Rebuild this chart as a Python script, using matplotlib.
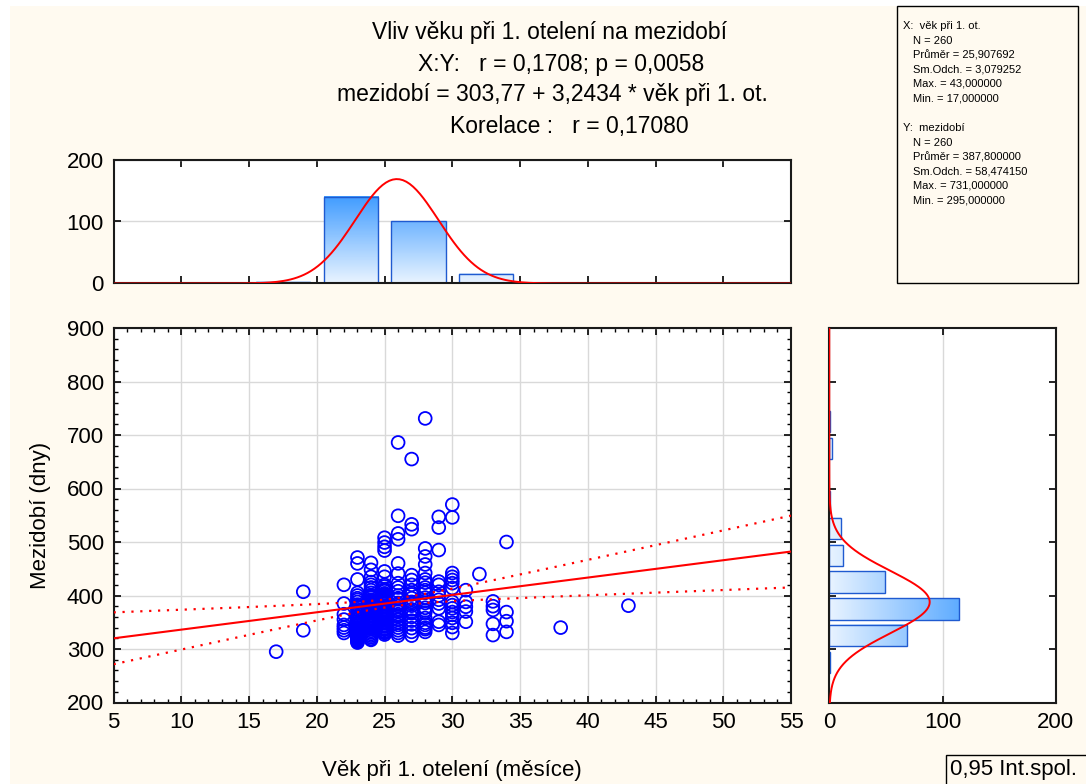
import numpy as np
import matplotlib
matplotlib.use('Agg')
import matplotlib.pyplot as plt
from matplotlib.patches import Rectangle
from matplotlib.colors import LinearSegmentedColormap, Normalize
from matplotlib.ticker import MultipleLocator, NullFormatter

plt.rcParams['font.family'] = ['Liberation Sans', 'DejaVu Sans']

# --- data ---
# age at first calving (months) and the intervals (days) seen in each column
ages = [17, 19, 22, 23, 24, 25, 26, 27, 28, 29, 30, 31, 32, 33, 34, 38, 43]
mezidobi = [
    [295],
    [407, 335],
    [420, 385, 365, 355, 345, 340, 335, 330],
    [471, 460, 430, 405, 400, 395, 392, 388, 383, 380, 378, 374, 370, 366, 362, 358, 355, 352,
     349, 346, 343, 340, 338, 336, 334, 332, 330, 328, 326, 324, 322, 320, 318, 316, 314, 312],
    [461, 448, 435, 425, 420, 415, 410, 405, 400, 398, 396, 392, 390, 388, 385, 382, 380, 379,
     376, 375, 373, 370, 368, 367, 364, 362, 361, 358, 356, 355, 352, 350, 349, 346, 344, 343,
     340, 338, 337, 334, 331, 328, 325, 322, 319, 317],
    [508, 499, 491, 484, 445, 435, 420, 417, 412, 410, 408, 404, 402, 400, 398, 396, 393, 391,
     390, 387, 385, 384, 381, 379, 378, 375, 373, 372, 369, 367, 366, 363, 361, 360, 357, 355,
     354, 351, 349, 348, 345, 343, 342, 339, 337, 336, 333, 331, 330, 327],
    [686, 549, 516, 505, 460, 441, 423, 415, 408, 400, 395, 393, 386, 383, 380, 375, 372, 370,
     365, 362, 360, 355, 350, 345, 340, 335, 330, 325],
    [655, 533, 524, 438, 429, 420, 410, 405, 402, 395, 388, 385, 381, 374, 370, 367, 360, 353,
     346, 339, 332, 325],
    [731, 488, 473, 458, 442, 430, 424, 415, 410, 405, 396, 390, 386, 377, 372, 368, 358, 349,
     345, 340, 337, 332],
    [547, 527, 485, 426, 420, 407, 400, 392, 385, 376, 351, 345],
    [570, 546, 442, 435, 429, 423, 414, 388, 382, 376, 369, 364, 358, 349, 341, 330],
    [410, 388, 379, 370, 351],
    [440],
    [389, 380, 373, 347, 326],
    [500, 369, 352, 332],
    [340],
    [381],
]

# marginal histograms
age_bin_centers = [17.5, 22.5, 27.5, 32.5, 37.5, 42.5]
age_bin_counts = [3, 140, 100, 15, 1, 1]
mez_bin_centers = [275, 325, 375, 425, 475, 525, 575, 625, 675, 725]
mez_bin_counts = [1, 69, 115, 49, 12, 10, 1, 0, 2, 1]

# summary statistics printed on the chart
n = 260
x_mean, x_sd = 25.907692, 3.079252
y_mean, y_sd = 387.8, 58.474150
r = 0.1708
intercept, slope = 303.77, 3.2434

title_lines = [
    'Vliv věku při 1. otelení na mezidobí',
    'X:Y:   r = 0,1708; p = 0,0058',
    'mezidobí = 303,77 + 3,2434 * věk při 1. ot.',
    'Korelace :   r = 0,17080',
]
stats_x = ['X:  věk při 1. ot.', 'N = 260', 'Průměr = 25,907692', 'Sm.Odch. = 3,079252',
           'Max. = 43,000000', 'Min. = 17,000000']
stats_y = ['Y:  mezidobí', 'N = 260', 'Průměr = 387,800000', 'Sm.Odch. = 58,474150',
           'Max. = 731,000000', 'Min. = 295,000000']

x = np.concatenate([[a] * len(v) for a, v in zip(ages, mezidobi)])
y = np.concatenate(mezidobi)

# --- figure ---
W, H = 1086, 784
cream = '#FFFAF0'
fig = plt.figure(figsize=(W / 100, H / 100), dpi=100, facecolor='white')


def box(l, t, r_, b):
    # pixel box (from top-left) -> figure fraction rect
    return [l / W, 1 - b / H, (r_ - l) / W, (b - t) / H]


fig.patches.append(Rectangle((10 / W, 0), 1, (H - 6) / H, transform=fig.transFigure,
                             facecolor=cream, edgecolor='none', zorder=-10))

ax = fig.add_axes(box(113.6, 328, 791, 702.5))
ax_top = fig.add_axes(box(113.6, 159.5, 791, 283.5))
ax_right = fig.add_axes(box(829.3, 328, 1055.7, 702.5))

cmap = LinearSegmentedColormap.from_list('bars', ['#E8F3FF', '#3C9AFF'])
norm = Normalize(0, 145)
edge = '#1F5AD0'
grid_c = '#D9D9D9'
fs = 16

for a in (ax, ax_top, ax_right):
    a.set_facecolor('white')
    for s in a.spines.values():
        s.set_linewidth(1.5)
        s.set_color('#1a1a1a')
    a.set_axisbelow(True)

# scatter
ax.scatter(x, y, s=85, facecolors='none', edgecolors='#0000FF', linewidths=1.3, zorder=3)
xs = np.linspace(5, 55, 200)
fit = intercept + slope * xs
s_res = y_sd * np.sqrt((1 - r ** 2) * (n - 1) / (n - 2))
sxx = (n - 1) * x_sd ** 2
half = 1.9692 * s_res * np.sqrt(1 / n + (xs - x_mean) ** 2 / sxx)
ax.plot(xs, fit, color='red', lw=1.5, zorder=4)
ax.plot(xs, fit + half, color='red', lw=1.6, ls=(0, (1, 3)), zorder=4)
ax.plot(xs, fit - half, color='red', lw=1.6, ls=(0, (1, 3)), zorder=4)
ax.set_xlim(5, 55)
ax.set_ylim(200, 900)
ax.xaxis.set_major_locator(MultipleLocator(5))
ax.xaxis.set_minor_locator(MultipleLocator(1))
ax.yaxis.set_major_locator(MultipleLocator(100))
ax.yaxis.set_minor_locator(MultipleLocator(20))
ax.grid(True, which='major', color=grid_c, lw=1)
ax.tick_params(which='both', direction='in', top=True, right=True, labelsize=fs, pad=7)
ax.tick_params(which='major', length=5, width=1.2)
ax.tick_params(which='minor', length=3, width=1)
ax.set_xlabel('Věk při 1. otelení (měsíce)', fontsize=fs, labelpad=19)
ax.set_ylabel('Mezidobí (dny)', fontsize=fs, labelpad=11)

# top histogram
for c, cnt in zip(age_bin_centers, age_bin_counts):
    if cnt <= 0:
        continue
    ax_top.imshow(np.linspace(0, cnt, 60).reshape(-1, 1), extent=(c - 2, c + 2, 0, cnt),
                  origin='lower', cmap=cmap, norm=norm, aspect='auto', zorder=2)
    ax_top.add_patch(Rectangle((c - 2, 0), 4, cnt, fill=False, ec=edge, lw=1, zorder=2.2))
ax_top.plot(xs, n * 5 * np.exp(-0.5 * ((xs - x_mean) / x_sd) ** 2) / (x_sd * np.sqrt(2 * np.pi)),
            color='red', lw=1.4, zorder=3)
ax_top.set_xlim(5, 55)
ax_top.set_ylim(0, 200)
ax_top.xaxis.set_major_locator(MultipleLocator(5))
ax_top.xaxis.set_major_formatter(NullFormatter())
ax_top.yaxis.set_major_locator(MultipleLocator(100))
ax_top.grid(True, axis='y', color=grid_c, lw=1)
ax_top.tick_params(direction='in', top=True, right=True, labelsize=fs, pad=7, length=5, width=1.2)

# right histogram
for c, cnt in zip(mez_bin_centers, mez_bin_counts):
    if cnt <= 0:
        continue
    ax_right.imshow(np.linspace(0, cnt, 60).reshape(1, -1), extent=(0, cnt, c - 20, c + 20),
                    origin='lower', cmap=cmap, norm=norm, aspect='auto', zorder=2)
    ax_right.add_patch(Rectangle((0, c - 20), cnt, 40, fill=False, ec=edge, lw=1, zorder=2.2))
ys = np.linspace(200, 900, 400)
ax_right.plot(n * 50 * np.exp(-0.5 * ((ys - y_mean) / y_sd) ** 2) / (y_sd * np.sqrt(2 * np.pi)), ys,
              color='red', lw=1.4, zorder=3)
ax_right.set_xlim(0, 200)
ax_right.set_ylim(200, 900)
ax_right.xaxis.set_major_locator(MultipleLocator(100))
ax_right.yaxis.set_major_locator(MultipleLocator(100))
ax_right.yaxis.set_major_formatter(NullFormatter())
ax_right.grid(True, axis='x', color=grid_c, lw=1)
ax_right.tick_params(direction='in', top=True, right=True, labelsize=fs, pad=7, length=5, width=1.2)

# title
for i, (line, cx) in enumerate(zip(title_lines, [550, 561, 552, 569])):
    fig.text(cx / W, 1 - (33 + 31 * i) / H, line, ha='center', va='center', fontsize=16.5)

# stats box
fig.patches.append(Rectangle((897 / W, 1 - 283 / H), (1078 - 897) / W, (283 - 6) / H,
                             transform=fig.transFigure, facecolor=cream, edgecolor='black',
                             lw=1, zorder=1))
for block, y0 in ((stats_x, 26), (stats_y, 128)):
    for j, line in enumerate(block):
        fig.text((903 if j == 0 else 913) / W, 1 - (y0 + 14.5 * j) / H, line,
                 ha='left', va='center', fontsize=8, zorder=2)

# confidence legend box
fig.patches.append(Rectangle((945.7 / W, -0.02), 0.2, (784 - 755 + 16) / H,
                             transform=fig.transFigure, facecolor=cream, edgecolor='black',
                             lw=1, zorder=1))
fig.text(950 / W, 1 - 770 / H, '0,95 Int.spol.', ha='left', va='center', fontsize=fs, zorder=2)

fig.savefig('out.png', dpi=100, facecolor=fig.get_facecolor())
